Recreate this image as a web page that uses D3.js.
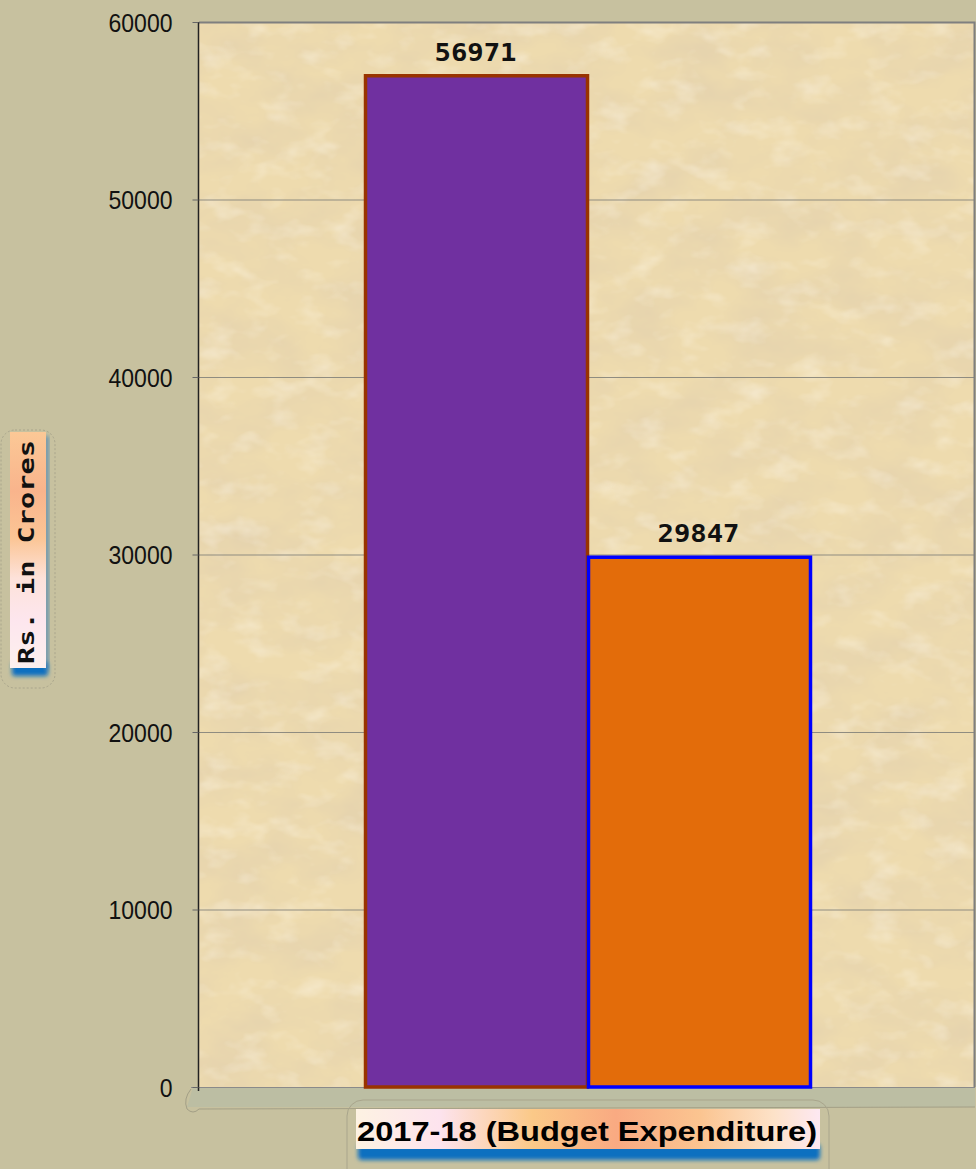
<!DOCTYPE html>
<html>
<head>
<meta charset="utf-8">
<script src="https://cdn.jsdelivr.net/npm/d3@7"></script>
<style>
  body { margin: 0; background: #c7c19f; }
  svg { display: block; }
  .tick text { font-family: "Liberation Sans", Arial, sans-serif; font-size: 26px; fill: #111; }
</style>
</head>
<body>
<script>
const categories = ["2017-18 (Budget Expenditure)"];
const series = ["A", "B"];
const values = [56971, 29847];
const yTicks = [0, 10000, 20000, 30000, 40000, 50000, 60000];
const yTitle = "Rs. in Crores";

const barFill = ["#7030a0", "#e36c0a"];
const barStroke = ["#993300", "#0000ff"];

const W = 976, H = 1169;
const plot = {left: 199, right: 975, top: 22, bottom: 1087};

const svg = d3.select("body").append("svg")
    .attr("width", W).attr("height", H);
const defs = svg.append("defs");

// parchment texture
const paper = defs.append("filter").attr("id", "paper")
    .attr("x", 0).attr("y", 0).attr("width", "100%").attr("height", "100%");
paper.append("feTurbulence").attr("type", "fractalNoise")
    .attr("baseFrequency", "0.015 0.025").attr("numOctaves", 4).attr("seed", 7);
paper.append("feColorMatrix").attr("type", "matrix")
    .attr("values", "0 0 0 0 0.76  0 0 0 0 0.63  0 0 0 0 0.42  1.3 0 0 0 -0.45");
const paper2 = defs.append("filter").attr("id", "paper2")
    .attr("x", 0).attr("y", 0).attr("width", "100%").attr("height", "100%");
paper2.append("feTurbulence").attr("type", "fractalNoise")
    .attr("baseFrequency", "0.03 0.05").attr("numOctaves", 3).attr("seed", 21);
paper2.append("feColorMatrix").attr("type", "matrix")
    .attr("values", "0 0 0 0 1  0 0 0 0 0.96  0 0 0 0 0.88  0.9 0 0 0 -0.45");

const blur = defs.append("filter").attr("id", "blur")
    .attr("x", "-20%").attr("y", "-50%").attr("width", "140%").attr("height", "200%");
blur.append("feGaussianBlur").attr("stdDeviation", 2);

const gy = defs.append("linearGradient").attr("id", "gy")
    .attr("x1", 0).attr("y1", 0).attr("x2", 0).attr("y2", 1);
[["0%", "#fbc896"], ["25%", "#f9b48c"], ["45%", "#fbc595"], ["62%", "#fde2da"], ["80%", "#fde6ee"], ["100%", "#fdf0ee"]]
  .forEach(s => gy.append("stop").attr("offset", s[0]).attr("stop-color", s[1]));
const gx = defs.append("linearGradient").attr("id", "gx")
    .attr("x1", 0).attr("y1", 0).attr("x2", 1).attr("y2", 0);
[["0%", "#fdf2e2"], ["18%", "#fde3ee"], ["38%", "#fbc988"], ["56%", "#f9aa82"], ["74%", "#fbc490"], ["90%", "#fde2c8"], ["100%", "#fde8f2"]]
  .forEach(s => gx.append("stop").attr("offset", s[0]).attr("stop-color", s[1]));

const y = d3.scaleLinear().domain([0, 60000]).range([plot.bottom, plot.top]);
const x0 = d3.scaleBand().domain(categories).range([plot.left, plot.right])
    .paddingInner(0).paddingOuter(0.37);
const x1 = d3.scaleBand().domain(series).range([0, x0.bandwidth()]).padding(0);

// floor
svg.append("path")
    .attr("d", `M${plot.left - 6},${plot.bottom} L${plot.right},${plot.bottom} L${plot.right},${plot.bottom + 20} L${plot.left - 12},${plot.bottom + 20} Z`)
    .attr("fill", "#bcbea3");
svg.append("path")
    .attr("d", `M${plot.left - 8},${plot.bottom + 2} q-8,10 -4,20 q6,6 12,0 L${plot.right},${plot.bottom + 20}`)
    .attr("fill", "none").attr("stroke", "#a39f86");

// plot background
svg.append("rect").attr("x", plot.left).attr("y", plot.top)
    .attr("width", plot.right - plot.left).attr("height", plot.bottom - plot.top)
    .attr("fill", "#eedbae");
svg.append("rect").attr("x", plot.left).attr("y", plot.top)
    .attr("width", plot.right - plot.left).attr("height", plot.bottom - plot.top)
    .attr("filter", "url(#paper)");
svg.append("rect").attr("x", plot.left).attr("y", plot.top)
    .attr("width", plot.right - plot.left).attr("height", plot.bottom - plot.top)
    .attr("filter", "url(#paper2)");

// gridlines
svg.append("g").selectAll("line").data(yTicks.filter(d => d > 0 && d < 60000)).join("line")
    .attr("x1", plot.left).attr("x2", plot.right)
    .attr("y1", d => y(d) + 0.5).attr("y2", d => y(d) + 0.5)
    .attr("stroke", "#8f8c80").attr("stroke-width", 1);

// frame
svg.append("path")
    .attr("d", `M${plot.left},${plot.top + 0.5} H${plot.right - 0.5} V${plot.bottom}`)
    .attr("fill", "none").attr("stroke", "#7f7f7f").attr("stroke-width", 2);
svg.append("line")
    .attr("x1", plot.left - 8).attr("x2", plot.right)
    .attr("y1", plot.bottom + 0.5).attr("y2", plot.bottom + 0.5)
    .attr("stroke", "#8a8a8a");

// y axis
const yAxis = svg.append("g")
    .attr("transform", `translate(${plot.left - 0.5},0)`)
    .call(d3.axisLeft(y).tickValues(yTicks).tickSize(6).tickPadding(20).tickFormat(d3.format("d")));
yAxis.select(".domain").attr("stroke", "#222").attr("stroke-width", 1.5)
    .attr("d", `M0,${plot.top} V${plot.bottom + 4}`);
yAxis.selectAll(".tick line").attr("stroke", "#666");
yAxis.selectAll(".tick text").attr("dy", "0.36em")
    .attr("textLength", d => String(d).length * 12.8)
    .attr("lengthAdjust", "spacingAndGlyphs");

// bars
const bars = svg.append("g").attr("transform", `translate(${x0(categories[0])},0)`);
bars.selectAll("rect").data(values).join("rect")
    .attr("x", (d, i) => x1(series[i]) + 1.5)
    .attr("y", d => y(d))
    .attr("width", x1.bandwidth() - 1)
    .attr("height", d => plot.bottom - y(d))
    .attr("fill", (d, i) => barFill[i])
    .attr("stroke", (d, i) => barStroke[i])
    .attr("stroke-width", 3.5);

bars.selectAll("text").data(values).join("text")
    .attr("x", (d, i) => x1(series[i]) + x1.bandwidth() / 2)
    .attr("y", d => y(d) - 15)
    .attr("text-anchor", "middle")
    .attr("font-family", "DejaVu Sans Mono, monospace")
    .attr("font-weight", "bold")
    .attr("font-size", 25)
    .attr("textLength", 82)
    .attr("lengthAdjust", "spacingAndGlyphs")
    .attr("fill", "#111")
    .text(d => d);

// y title box
const yt = svg.append("g");
yt.append("rect").attr("x", 1).attr("y", 430).attr("width", 54).attr("height", 258).attr("rx", 14)
    .attr("fill", "none").attr("stroke", "#a9a58c").attr("stroke-dasharray", "2,2");
yt.append("rect").attr("x", 12).attr("y", 662).attr("width", 36).attr("height", 14).attr("rx", 3)
    .attr("fill", "#0a6fc0").attr("filter", "url(#blur)");
yt.append("rect").attr("x", 44).attr("y", 436).attr("width", 5).attr("height", 234)
    .attr("fill", "#3c80b8").attr("opacity", 0.7).attr("filter", "url(#blur)");
yt.append("rect").attr("x", 10).attr("y", 432).attr("width", 36).attr("height", 236)
    .attr("fill", "url(#gy)");
yt.append("text")
    .attr("transform", "translate(34,552) rotate(-90)")
    .attr("text-anchor", "middle")
    .attr("font-family", "DejaVu Sans Mono, monospace")
    .attr("font-weight", "bold").attr("font-size", 21)
    .attr("textLength", 224).attr("lengthAdjust", "spacingAndGlyphs")
    .attr("fill", "#111")
    .text(yTitle);

// x title box
const xt = svg.append("g");
xt.append("rect").attr("x", 347).attr("y", 1100).attr("width", 482).attr("height", 90).attr("rx", 16)
    .attr("fill", "none").attr("stroke", "#a9a58c");
xt.append("rect").attr("x", 358).attr("y", 1144).attr("width", 462).attr("height", 16).attr("rx", 4)
    .attr("fill", "#0a6fc0").attr("filter", "url(#blur)");
xt.append("rect").attr("x", 356).attr("y", 1109).attr("width", 464).attr("height", 40)
    .attr("fill", "url(#gx)");
xt.append("text")
    .attr("x", 587).attr("y", 1141)
    .attr("text-anchor", "middle")
    .attr("font-family", "Liberation Sans, Arial, sans-serif")
    .attr("font-weight", "bold").attr("font-size", 28)
    .attr("textLength", 460).attr("lengthAdjust", "spacingAndGlyphs")
    .attr("fill", "#000")
    .text(categories[0]);
</script>
</body>
</html>
